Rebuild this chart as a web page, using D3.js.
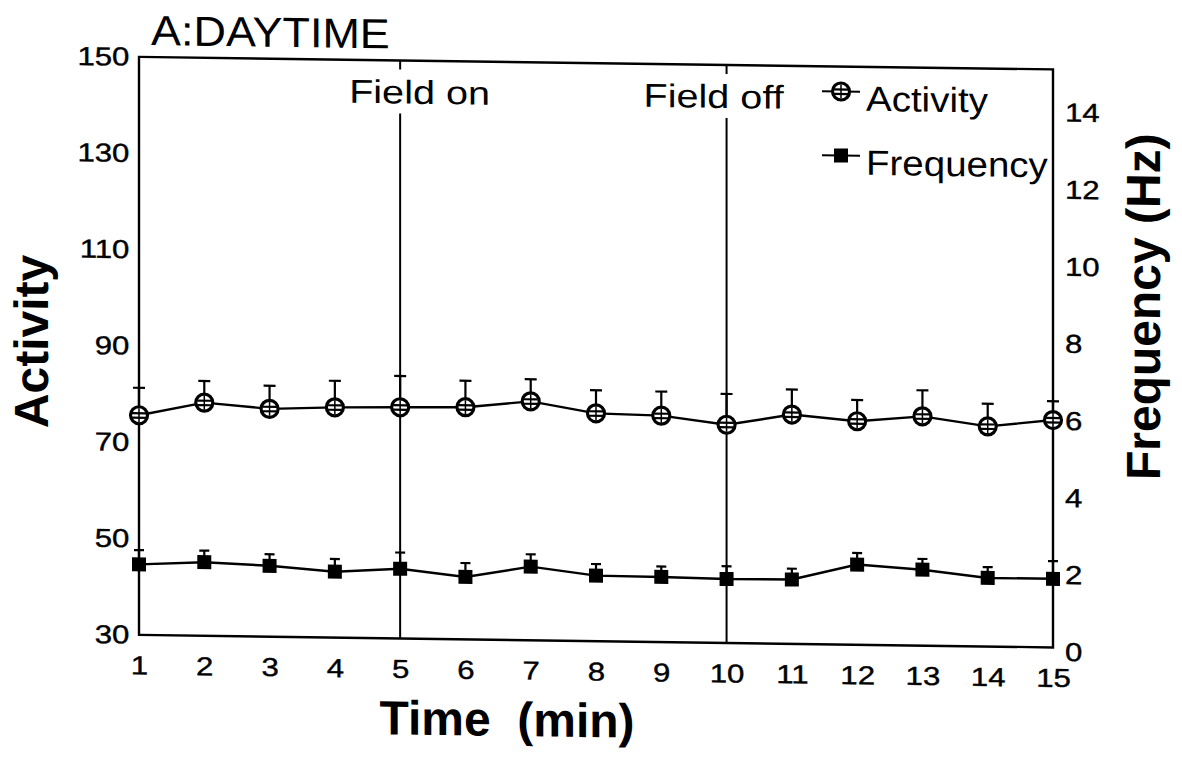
<!DOCTYPE html>
<html>
  <head>
    <meta charset="utf-8">
    <script src="https://cdn.jsdelivr.net/npm/d3@7/dist/d3.min.js"></script>
    <style type="text/css">

html, body {
  margin: 0;
  padding: 0;
  background: #fff;
}

svg {
  display: block;
  font-family: "Liberation Sans", Arial, Helvetica, sans-serif;
}

.axis path, .axis line {
  display: none;
}

    </style>
  </head>
  <body>
    <svg id="chart" width="1182" height="771"></svg>
    <script type="text/javascript">

var minutes = [1, 2, 3, 4, 5, 6, 7, 8, 9, 10, 11, 12, 13, 14, 15];
var activity = [75.6, 78.4, 77.3, 77.8, 78.0, 78.2, 79.6, 77.3, 77.0, 75.3, 77.6, 76.4, 77.6, 75.7, 77.2];
var activityErr = [5.7, 4.5, 4.8, 5.5, 6.5, 5.5, 4.6, 4.8, 5.0, 6.4, 5.2, 4.4, 5.4, 4.7, 3.9];
var frequency = [1.83, 1.91, 1.84, 1.71, 1.81, 1.62, 1.91, 1.70, 1.69, 1.66, 1.67, 2.08, 1.97, 1.78, 1.78];
var frequencyErr = [0.37, 0.30, 0.30, 0.33, 0.42, 0.36, 0.32, 0.30, 0.27, 0.33, 0.28, 0.30, 0.28, 0.28, 0.46];
var activityTicks = [30, 50, 70, 90, 110, 130, 150];
var frequencyTicks = [0, 2, 4, 6, 8, 10, 12, 14];
var fieldMinutes = [5, 10];
var fieldLabels = ["Field on", "Field off"];

var svg = d3.select("#chart");

// the scanned figure leans: its right side sits ~13px lower than its left
var g = svg.append("g").attr("transform", "skewY(0.784)");

// (window.top is read-only, so no bare "top" here)
var plotLeft = 139, plotRight = 1053, plotTop = 55, plotBottom = 633;

var x = d3.scaleLinear().domain([1, 15]).range([plotLeft, plotRight]);
var yAct = d3.scaleLinear().domain([30, 150]).range([plotBottom, plotTop]);
var yFreq = d3.scaleLinear().domain([0, 15]).range([plotBottom, plotTop]);

// plain text with the wide lettering of the original
function label(parent, str, px, py, size, sx, anchor, weight) {
  return parent.append("text")
      .attr("transform", "translate(" + px + "," + py + ") scale(" + sx + ",1)")
      .attr("text-anchor", anchor || "start")
      .attr("font-size", size)
      .attr("font-weight", weight || "normal")
      .attr("fill", "#000")
      .style("white-space", "pre")
      .text(str);
}

// frame
g.append("rect")
    .attr("x", plotLeft)
    .attr("y", plotTop)
    .attr("width", plotRight - plotLeft)
    .attr("height", plotBottom - plotTop)
    .attr("fill", "none")
    .attr("stroke", "#000")
    .attr("stroke-width", 2.4);

// axes (labels only, the frame is the axis line)
var axL = g.append("g")
    .attr("class", "axis")
    .attr("transform", "translate(" + plotLeft + ",0)")
    .call(d3.axisLeft(yAct).tickValues(activityTicks).tickSize(0).tickPadding(8));

var axR = g.append("g")
    .attr("class", "axis")
    .attr("transform", "translate(" + plotRight + ",0)")
    .call(d3.axisRight(yFreq).tickValues(frequencyTicks).tickSize(0).tickPadding(10));
axR.selectAll("text").attr("dy", "0.5em");

var axB = g.append("g")
    .attr("class", "axis")
    .attr("transform", "translate(0," + plotBottom + ")")
    .call(d3.axisBottom(x).tickValues(minutes).tickFormat(d3.format("d")).tickSize(0).tickPadding(21));

[axL, axR, axB].forEach(function(ax) {
  ax.attr("font-family", null).attr("font-size", null);
  ax.selectAll("text")
      .attr("font-size", 26).attr("fill", "#000")
      .attr("stroke", "#000").attr("stroke-width", 0.4)
      .attr("transform", "scale(1.2,1)");
});

// field on / off markers
fieldMinutes.forEach(function(m, i) {
  var fx = x(m), base = 98;
  g.append("line")
      .attr("x1", fx).attr("x2", fx)
      .attr("y1", plotTop).attr("y2", base - 34)
      .attr("stroke", "#000").attr("stroke-width", 2);
  g.append("line")
      .attr("x1", fx).attr("x2", fx)
      .attr("y1", base + 10).attr("y2", plotBottom)
      .attr("stroke", "#000").attr("stroke-width", 2);
  var lx = i === 0 ? fx - 51 : fx - 83;
  label(g, fieldLabels[i], lx, base, 33, 1.2, "start");
});

// connecting lines
var lineAct = d3.line()
    .x(function(d, i) { return x(minutes[i]); })
    .y(function(d) { return yAct(d); });
var lineFreq = d3.line()
    .x(function(d, i) { return x(minutes[i]); })
    .y(function(d) { return yFreq(d); });

g.append("path").attr("d", lineAct(activity))
    .attr("fill", "none").attr("stroke", "#000").attr("stroke-width", 2.4);
g.append("path").attr("d", lineFreq(frequency))
    .attr("fill", "none").attr("stroke", "#000").attr("stroke-width", 2.4);

// upper error bars
function errBars(vals, errs, y, cap) {
  vals.forEach(function(v, i) {
    var px = x(minutes[i]);
    g.append("line")
        .attr("x1", px).attr("x2", px)
        .attr("y1", y(v)).attr("y2", y(v + errs[i]))
        .attr("stroke", "#000").attr("stroke-width", 2.2);
    g.append("line")
        .attr("x1", px - cap / 2).attr("x2", px + cap / 2)
        .attr("y1", y(v + errs[i])).attr("y2", y(v + errs[i]))
        .attr("stroke", "#000").attr("stroke-width", 2.2);
  });
}
errBars(activity, activityErr, yAct, 12);
errBars(frequency, frequencyErr, yFreq, 10);

// markers
function circleMark(parent, px, py) {
  var m = parent.append("g").attr("transform", "translate(" + px + "," + py + ")");
  m.append("circle").attr("r", 8.5)
      .attr("fill", "#fff").attr("stroke", "#000").attr("stroke-width", 3.2);
  m.append("line").attr("x1", -7).attr("x2", 7).attr("y1", -2).attr("y2", -2)
      .attr("stroke", "#000").attr("stroke-width", 2.2);
  m.append("line").attr("x1", -7).attr("x2", 7).attr("y1", 2.5).attr("y2", 2.5)
      .attr("stroke", "#000").attr("stroke-width", 2.2);
  m.append("line").attr("x1", 0).attr("x2", 0).attr("y1", -7).attr("y2", 7)
      .attr("stroke", "#000").attr("stroke-width", 1.5);
}
function squareMark(parent, px, py) {
  parent.append("rect")
      .attr("x", px - 7).attr("y", py - 7)
      .attr("width", 14).attr("height", 14)
      .attr("fill", "#000");
}

activity.forEach(function(v, i) { circleMark(g, x(minutes[i]), yAct(v)); });
frequency.forEach(function(v, i) { squareMark(g, x(minutes[i]), yFreq(v)); });

// legend
var legend = [
  {name: "Activity", mark: circleMark, y: 80},
  {name: "Frequency", mark: squareMark, y: 144}
];
legend.forEach(function(d) {
  g.append("line")
      .attr("x1", 822).attr("x2", 860)
      .attr("y1", d.y).attr("y2", d.y)
      .attr("stroke", "#000").attr("stroke-width", 2.2);
  d.mark(g, 841, d.y);
  label(g, d.name, 866, d.y + 19, 35, 1.1, "start");
});

// titles
label(g, "A:DAYTIME", 151, 43, 42, 1.07, "start");
label(g, "Time  (min)", 507, 729, 48, 1, "middle", "bold");

g.append("text")
    .attr("transform", "translate(48,341) rotate(-90)")
    .attr("text-anchor", "middle")
    .attr("font-size", 48)
    .attr("font-weight", "bold")
    .text("Activity");

g.append("text")
    .attr("transform", "translate(1160,291) rotate(-90)")
    .attr("text-anchor", "middle")
    .attr("font-size", 48)
    .attr("font-weight", "bold")
    .text("Frequency (Hz)");

    </script>
  </body>
</html>
